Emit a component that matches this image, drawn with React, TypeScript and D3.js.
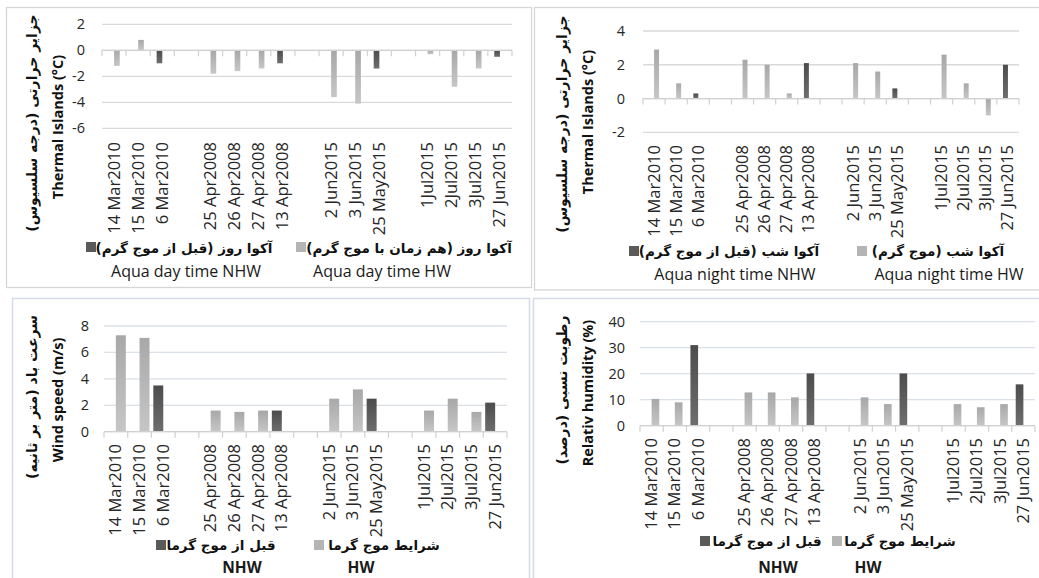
import React from 'react';
import * as d3 from 'd3';

// categories shared by all four charts (empty slots separate the groups)
const categories = ["14 Mar2010", "15 Mar2010", "6 Mar2010", "", "25 Apr2008", "26 Apr2008", "27 Apr2008", "13 Apr2008", "", "2 Jun2015", "3 Jun2015", "25 May2015", "", "1Jul2015", "2Jul2015", "3Jul2015", "27 Jun2015"];

// Aqua day time
const dayNHW = [null, null, -1.0, null, null, null, null, -1.0, null, null, null, -1.4, null, null, null, null, -0.5];
const dayHW = [-1.2, 0.8, null, null, -1.8, -1.6, -1.4, null, null, -3.6, -4.1, null, null, -0.3, -2.8, -1.4, null];
const dayTicks = [2, 0, -2, -4, -6];

// Aqua night time
const nightNHW = [null, null, 0.3, null, null, null, null, 2.1, null, null, null, 0.6, null, null, null, null, 2.0];
const nightHW = [2.9, 0.9, null, null, 2.3, 2.0, 0.3, null, null, 2.1, 1.6, null, null, 2.6, 0.9, -1.0, null];
const nightTicks = [4, 2, 0, -2];

// wind speed
const windNHW = [null, null, 3.5, null, null, null, null, 1.6, null, null, null, 2.5, null, null, null, null, 2.2];
const windHW = [7.3, 7.1, null, null, 1.6, 1.5, 1.6, null, null, 2.5, 3.2, null, null, 1.6, 2.5, 1.5, null];
const windTicks = [8, 6, 4, 2, 0];

// relative humidity
const humNHW = [null, null, 31, null, null, null, null, 20.1, null, null, null, 20.1, null, null, null, null, 15.9];
const humHW = [10.3, 9.0, null, null, 12.8, 12.8, 10.9, null, null, 10.9, 8.3, null, null, 8.3, 7.1, 8.3, null];
const humTicks = [40, 30, 20, 10, 0];

const EN = "'Open Sans', Lato, sans-serif";
const FA = "'DejaVu Sans', sans-serif";

type Leg = { sq: number; sqY: number; fa: string; faX: number; faY: number; en: string; enX: number; enY: number; enBold: boolean; dark: boolean };

type PanelCfg = {
  nhw: (number | null)[]; hw: (number | null)[]; ticks: number[]; domain: [number, number];
  x0: number; x1: number; yTop: number; yBot: number; tickX: number; labelTop: number; frac: number;
  titleFa: string; titleEn: string; faX: number; enX: number; faY: number; enY: number; grid: string;
  legend: Leg[];
};

const Panel = ({ c }: { c: PanelCfg }) => {
  const idx = categories.map((_, i) => String(i));
  const x = d3.scaleBand().domain(idx).range([c.x0, c.x1]).padding(0);
  const y = d3.scaleLinear().domain(c.domain).range([c.yBot, c.yTop]);
  const bw = (x.bandwidth() * c.frac) / 2;
  const y0 = y(0);
  const bars: JSX.Element[] = [];
  categories.forEach((_, i) => {
    const cx = (x(String(i)) as number) + x.bandwidth() / 2;
    const n = c.nhw[i];
    const h = c.hw[i];
    if (n != null) bars.push(<rect key={'n' + i} x={cx - bw} width={bw} y={Math.min(y(n), y0)} height={Math.abs(y(n) - y0)} fill="url(#gDark)" />);
    if (h != null) bars.push(<rect key={'h' + i} x={cx} width={bw} y={Math.min(y(h), y0)} height={Math.abs(y(h) - y0)} fill="url(#gLight)" />);
  });
  const edges = idx.map(k => x(k) as number).concat([c.x1]);
  return (
    <g>
      {c.ticks.map(t => (
        <g key={t}>
          <line x1={c.x0} x2={c.x1} y1={y(t)} y2={y(t)} stroke={c.grid} strokeWidth={1.3} />
          <text x={c.tickX} y={y(t) + 5} textAnchor="end" fontFamily={EN} fontSize={14.5} fill="#262626">{t}</text>
        </g>
      ))}
      {bars}
      <line x1={c.x0} x2={c.x1} y1={y0} y2={y0} stroke="#d0d0d0" strokeWidth={1.3} />
      {edges.map((e, i) => <line key={i} x1={e} x2={e} y1={y0} y2={y0 + 6} stroke="#d0d0d0" strokeWidth={1.2} />)}
      {categories.map((cat, i) => (
        <text key={i} transform={`translate(${(x(String(i)) as number) + x.bandwidth() / 2 + 5.5},${c.labelTop}) rotate(-90)`}
          textAnchor="end" fontFamily={EN} fontSize={16.5} fill="#262626">{cat}</text>
      ))}
      <text transform={`translate(${c.faX + 5},${c.faY}) rotate(-90)`} textAnchor="middle" direction="rtl"
        fontFamily={FA} fontWeight="bold" fontSize={14} fill="#111">{c.titleFa}</text>
      <text transform={`translate(${c.enX + 5},${c.enY}) rotate(-90)`} textAnchor="middle"
        fontFamily={EN} fontWeight="bold" fontSize={14.5} fill="#111">{c.titleEn}</text>
      {c.legend.map((l, i) => (
        <g key={i}>
          <rect x={l.sq} y={l.sqY} width={10} height={10} fill={l.dark ? '#5a5a5a' : '#b4b4b4'} />
          <text x={l.faX} y={l.faY} textAnchor="middle" direction="rtl" fontFamily={FA} fontWeight="bold" fontSize={13.5} fill="#111">{l.fa}</text>
          <text x={l.enX} y={l.enY} textAnchor="middle" fontFamily={EN} fontWeight={l.enBold ? 'bold' : 'normal'} fontSize={l.enBold ? 15.5 : 16} fill="#1a1a1a">{l.en}</text>
        </g>
      ))}
    </g>
  );
};

export default function App() {
  const panels: PanelCfg[] = [
    {
      nhw: dayNHW, hw: dayHW, ticks: dayTicks, domain: [-6, 2], x0: 102, x1: 512, yTop: 24.3, yBot: 128.3, tickX: 85,
      labelTop: 142, frac: 0.47, titleFa: 'جزایر حرارتی (درجه سلسیوس)', titleEn: 'Thermal Islands (°C)',
      faX: 32, enX: 58, faY: 123, enY: 127, grid: '#d9d9d9',
      legend: [
        { sq: 86, sqY: 242, fa: 'آکوا روز (قبل از موج گرم)', faX: 184, faY: 253, en: 'Aqua day time NHW', enX: 186, enY: 277, enBold: false, dark: true },
        { sq: 296, sqY: 242, fa: 'آکوا روز (هم زمان با موج گرم)', faX: 409, faY: 253, en: 'Aqua day time HW', enX: 382, enY: 277, enBold: false, dark: false },
      ],
    },
    {
      nhw: nightNHW, hw: nightHW, ticks: nightTicks, domain: [-2, 4], x0: 643, x1: 1019, yTop: 31, yBot: 132.3, tickX: 625,
      labelTop: 145, frac: 0.45, titleFa: 'جزایر حرارتی (درجه سلسیوس)', titleEn: 'Thermal Islands (°C)',
      faX: 562, enX: 588, faY: 124, enY: 122, grid: '#d9d9d9',
      legend: [
        { sq: 629, sqY: 246, fa: 'آکوا شب (قبل از موج گرم)', faX: 729, faY: 256, en: 'Aqua night time NHW', enX: 735, enY: 280, enBold: false, dark: true },
        { sq: 857, sqY: 246, fa: 'آکوا شب (موج گرم)', faX: 938, faY: 256, en: 'Aqua night time HW', enX: 949, enY: 280, enBold: false, dark: false },
      ],
    },
    {
      nhw: windNHW, hw: windHW, ticks: windTicks, domain: [0, 8], x0: 104, x1: 507, yTop: 326, yBot: 431.7, tickX: 89,
      labelTop: 444, frac: 0.84, titleFa: 'سرعت باد (متر بر ثانیه)', titleEn: 'Wind speed (m/s)',
      faX: 32, enX: 58, faY: 397, enY: 400, grid: '#d9e0e8',
      legend: [
        { sq: 156, sqY: 540, fa: 'قبل از موج گرما', faX: 221, faY: 550, en: 'NHW', enX: 242, enY: 573, enBold: true, dark: true },
        { sq: 314, sqY: 540, fa: 'شرایط موج گرما', faX: 384, faY: 550, en: 'HW', enX: 361, enY: 573, enBold: true, dark: false },
      ],
    },
    {
      nhw: humNHW, hw: humHW, ticks: humTicks, domain: [0, 40], x0: 640, x1: 1035, yTop: 321.7, yBot: 425.7, tickX: 625,
      labelTop: 438, frac: 0.66, titleFa: 'رطوبت نسبی (درصد)', titleEn: 'Relativ humidity (%)',
      faX: 562, enX: 588, faY: 390, enY: 393, grid: '#d9e0e8',
      legend: [
        { sq: 700, sqY: 536, fa: 'قبل از موج گرما', faX: 767, faY: 546, en: 'NHW', enX: 778, enY: 573, enBold: true, dark: true },
        { sq: 832, sqY: 536, fa: 'شرایط موج گرما', faX: 900, faY: 546, en: 'HW', enX: 868, enY: 573, enBold: true, dark: false },
      ],
    },
  ];
  return (
    <svg width={1039} height={578} style={{ position: 'absolute', left: 0, top: 0, background: '#fff' }}>
      <defs>
        <linearGradient id="gDark" x1="0" y1="0" x2="0" y2="1">
          <stop offset="0" stopColor="#4c4c4c" />
          <stop offset="1" stopColor="#6e6e6e" />
        </linearGradient>
        <linearGradient id="gLight" x1="0" y1="0" x2="0" y2="1">
          <stop offset="0" stopColor="#a8a8a8" />
          <stop offset="1" stopColor="#c6c6c6" />
        </linearGradient>
      </defs>
      <rect x={6.5} y={7.5} width={525} height={280} fill="none" stroke="#d6d6d6" strokeWidth={1.3} />
      <rect x={534.5} y={7.5} width={520} height={282.5} fill="none" stroke="#d6d6d6" strokeWidth={1.3} />
      <rect x={12.5} y={298.5} width={517} height={300} fill="none" stroke="#d6dde6" strokeWidth={1.6} />
      <rect x={533.5} y={298.5} width={520} height={300} fill="none" stroke="#d6dde6" strokeWidth={1.6} />
      {panels.map((p, i) => <Panel key={i} c={p} />)}
    </svg>
  );
}
